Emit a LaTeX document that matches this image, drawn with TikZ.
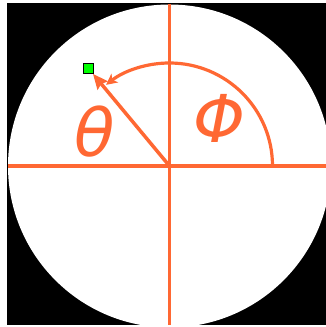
\documentclass[tikz,border=0pt]{standalone}
\usepackage{fontspec}
\setmainfont{DejaVu Sans}
\usetikzlibrary{arrows.meta}
\definecolor{axiscol}{RGB}{255,104,51}
\definecolor{markgreen}{RGB}{0,255,0}
\begin{document}
\begin{tikzpicture}[x=1pt,y=1pt,
  axisline/.style={draw=axiscol,line width=3.5pt},
  arcline/.style={draw=axiscol,line width=3.2pt,-{Stealth[length=11pt,width=11pt,inset=3pt]}},
  radline/.style={draw=axiscol,line width=3.5pt,-{Stealth[length=15pt,width=13pt,inset=2pt]}},
  lbl/.style={text=axiscol,font=\fontsize{66}{66}\selectfont\itshape,inner sep=0pt},
  marker/.style={draw=black,line width=0.8pt,fill=markgreen,minimum size=10pt,inner sep=0pt}]
\useasboundingbox (0,0) rectangle (326,327);
\fill[white] (0,0) rectangle (326,327);
\fill[black] (7,2) rectangle (326,324);
\begin{scope}
\clip (7,2) rectangle (326,324);
\coordinate (o) at (169.5,161);
\fill[white] (o) circle[radius=161.5];
\coordinate (left) at (8,161);
\coordinate (right) at (330,161);
\coordinate (top) at (169.5,323);
\coordinate (bottom) at (169.5,0);
\draw[axisline] (left) -- (right);
\draw[axisline] (bottom) -- (top);
\coordinate (arcstart) at (272.5,161);
\draw[arcline] (arcstart) arc[start angle=0,end angle=128,radius=103];
\node[marker] (pt) at (88.5,258.5) {};
\draw[radline] (o) -- (pt);
\node[lbl] (theta) at (95,195) {θ};
\node[lbl] (phi) at (219,209) {Φ};
\end{scope}
\end{tikzpicture}
\end{document}
